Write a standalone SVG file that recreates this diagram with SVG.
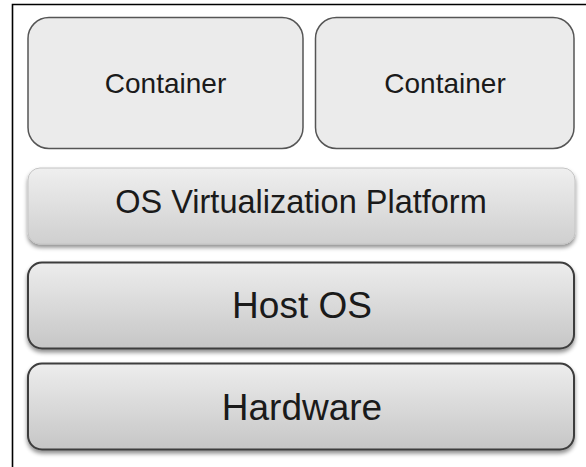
<svg xmlns="http://www.w3.org/2000/svg" width="586" height="467" viewBox="0 0 586 467">
<defs>
<linearGradient id="g" x1="0" y1="0" x2="0" y2="1">
<stop offset="0" stop-color="#ededed"/>
<stop offset="1" stop-color="#c6c6c6"/>
</linearGradient>
<linearGradient id="gv" x1="0" y1="0" x2="0" y2="1">
<stop offset="0" stop-color="#efefef"/>
<stop offset="1" stop-color="#cfcfcf"/>
</linearGradient>
<filter id="sh" x="-5%" y="-10%" width="110%" height="130%">
<feDropShadow dx="0" dy="3" stdDeviation="2.2" flood-color="#000" flood-opacity="0.45"/>
</filter>
</defs>
<style>
.c{fill:#ebebeb;stroke:#555;stroke-width:1.5}
.b{fill:url(#g);stroke:#3c3c3c;stroke-width:2;filter:url(#sh)}
.v{fill:url(#gv);stroke:#c4c4c4;stroke-width:1;filter:url(#sh)}
text{font-family:"Liberation Sans",Arial,sans-serif;fill:#1a1a1a;text-anchor:middle}
</style>
<rect width="586" height="467" fill="#fff"/>
<path d="M12.5 467 V4.5 H586" fill="none" stroke="#000" stroke-width="1.6"/>
<g id="container1">
<rect class="c" x="28" y="17.5" width="275" height="131" rx="21"/>
<text x="165.5" y="93" font-size="28">Container</text>
</g>
<g id="container2">
<rect class="c" x="315.5" y="17.5" width="258.5" height="131" rx="21"/>
<text x="445" y="93" font-size="28">Container</text>
</g>
<g id="osvirt">
<rect class="v" x="28" y="168" width="547" height="76" rx="12"/>
<text x="301" y="213" font-size="32.5">OS Virtualization Platform</text>
</g>
<g id="hostos">
<rect class="b" x="28" y="262.5" width="546" height="86" rx="14"/>
<text x="302" y="318" font-size="37">Host OS</text>
</g>
<g id="hardware">
<rect class="b" x="28" y="363.5" width="546" height="86" rx="14"/>
<text x="302" y="420" font-size="37">Hardware</text>
</g>
<g id="connectors"/>
</svg>
